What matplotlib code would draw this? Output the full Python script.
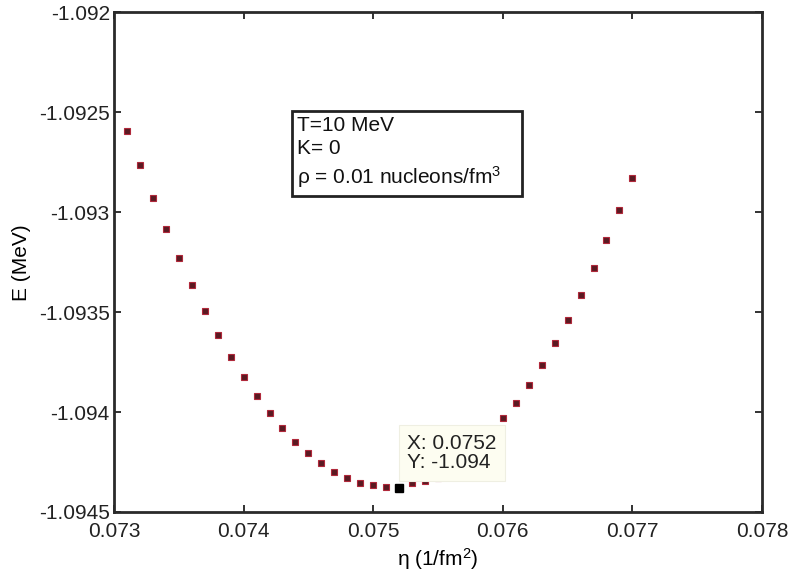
import numpy as np
import matplotlib
matplotlib.use("Agg")
import matplotlib.pyplot as plt
from matplotlib.patches import Rectangle

plt.rcParams['font.family'] = ['Liberation Sans', 'DejaVu Sans']
plt.rcParams['mathtext.fontset'] = 'custom'
plt.rcParams['mathtext.rm'] = 'Liberation Sans'
plt.rcParams['mathtext.it'] = 'Liberation Sans'

# eta values (1/fm^2) and energies (MeV)
eta = [0.0731, 0.0732, 0.0733, 0.0734, 0.0735, 0.0736, 0.0737, 0.0738, 0.0739, 0.0740,
       0.0741, 0.0742, 0.0743, 0.0744, 0.0745, 0.0746, 0.0747, 0.0748, 0.0749, 0.0750,
       0.0751, 0.0752, 0.0753, 0.0754, 0.0755, 0.0756, 0.0757, 0.0758, 0.0759, 0.0760,
       0.0761, 0.0762, 0.0763, 0.0764, 0.0765, 0.0766, 0.0767, 0.0768, 0.0769, 0.0770]
energy = [-1.092595, -1.092765, -1.092930, -1.093085, -1.093230, -1.093365, -1.093495, -1.093615,
          -1.093725, -1.093825, -1.093920, -1.094005, -1.094080, -1.094150, -1.094205, -1.094255,
          -1.094300, -1.094330, -1.094355, -1.094365, -1.094375, -1.094378, -1.094355, -1.094345,
          -1.094330, -1.094290, -1.094240, -1.094180, -1.094110, -1.094030, -1.093955, -1.093865,
          -1.093765, -1.093655, -1.093540, -1.093415, -1.093280, -1.093140, -1.092990, -1.092830]

# data cursor point
tip_index = 21

xticks = [0.073, 0.074, 0.075, 0.076, 0.077, 0.078]
xticklabels = ["0.073", "0.074", "0.075", "0.076", "0.077", "0.078"]
yticks = [-1.0945, -1.094, -1.0935, -1.093, -1.0925, -1.092]
yticklabels = ["-1.0945", "-1.094", "-1.0935", "-1.093", "-1.0925", "-1.092"]

fig = plt.figure(figsize=(7.89, 5.75), dpi=100)
ax = fig.add_axes([0.1445, 0.1096, 0.8213, 0.8687])

ax.plot(eta, energy, linestyle='none', marker='s', markersize=4.2,
        markerfacecolor='#5a1a22', markeredgecolor='#b0283a', markeredgewidth=0.8)

# highlighted point of the data tip
ax.plot(eta[tip_index], energy[tip_index], linestyle='none', marker='s', markersize=5.5,
        color='black', zorder=3)

ax.annotate("X: 0.0752\nY: -1.094", xy=(eta[tip_index], energy[tip_index]),
            xytext=(6, 11), textcoords='offset points', ha='left', va='bottom',
            fontsize=15, color='#222222', linespacing=1.05,
            bbox=dict(boxstyle='square,pad=0.4', facecolor='#fdfdf1', edgecolor='#efefe2', linewidth=0.8),
            zorder=5)

# info box
ax.add_patch(Rectangle((0.2747, 0.632), 0.355, 0.171, transform=ax.transAxes,
                       facecolor='white', edgecolor='#222222', linewidth=2, zorder=4))
ax.text(0.283, 0.793, "T=10 MeV\nK= 0\nρ = 0.01 nucleons/fm$^3$", transform=ax.transAxes,
        ha='left', va='top', fontsize=15, linespacing=1.3, color='#111111', zorder=5)

ax.set_xlim(0.073, 0.078)
ax.set_ylim(-1.0945, -1.092)
ax.set_xticks(xticks)
ax.set_xticklabels(xticklabels)
ax.set_yticks(yticks)
ax.set_yticklabels(yticklabels)
ax.tick_params(direction='in', top=True, right=True, length=5, width=1.3,
               labelsize=15, colors='#222222', pad=3)
ax.tick_params(axis='x', pad=7)

for s in ax.spines.values():
    s.set_linewidth(2)
    s.set_color('#2a2a2a')

ax.set_xlabel("η (1/fm$^2$)", fontsize=15)
ax.set_ylabel("E (MeV)", fontsize=15)
ax.xaxis.set_label_coords(0.5, -0.068)
ax.yaxis.set_label_coords(-0.128, 0.5)

fig.savefig("out.png", dpi=100)
